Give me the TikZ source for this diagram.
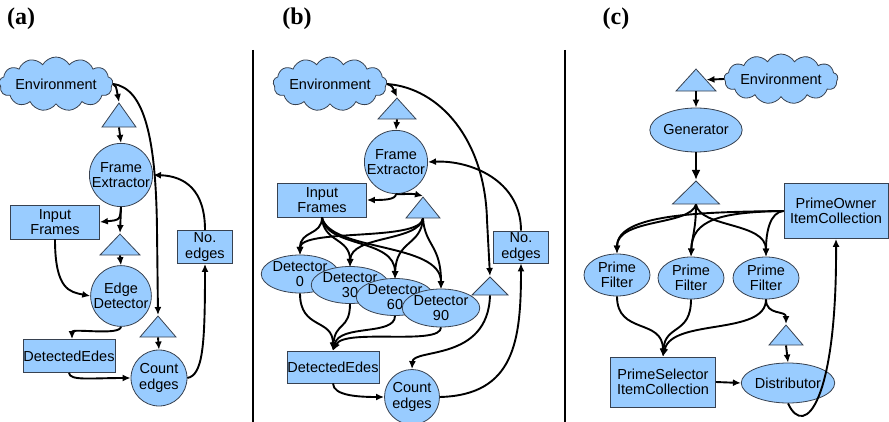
\documentclass[tikz,border=0pt]{standalone}
\usepackage{fontspec}
\setmainfont{Liberation Sans}
\newfontfamily\labelfont{Liberation Serif}
\usetikzlibrary{shapes.geometric,shapes.symbols,arrows.meta}

\definecolor{nodefill}{RGB}{153,204,255}
\definecolor{nodeline}{RGB}{55,65,80}

\tikzset{
  base/.style={draw=nodeline, fill=nodefill, line width=0.8pt, inner sep=0pt,
    align=center, font=\fontsize{14.5}{15.5}\selectfont},
  circ/.style={base, circle, minimum size=#1},
  ellip/.style 2 args={base, ellipse, minimum width=#1, minimum height=#2},
  box/.style 2 args={base, rectangle, minimum width=#1, minimum height=#2},
  cloudnode/.style 2 args={base, cloud, cloud puffs=13, cloud puff arc=120,
    cloud ignores aspect, minimum width=#1, minimum height=#2},
  tri/.style 2 args={base, isosceles triangle, isosceles triangle stretches,
    shape border rotate=90, minimum width=#1, minimum height=#2, anchor=apex},
  arr/.style={line width=1.9pt, -{Latex[length=8pt,width=7pt]}},
  thickarr/.style={line width=2.8pt, -{Latex[length=10pt,width=9pt]}},
  panel/.style={font=\labelfont\bfseries\fontsize{24}{26}\selectfont},
  divider/.style={line width=1.5pt}
}

\begin{document}
\begin{tikzpicture}[x=1pt, y=-1pt]
\useasboundingbox (0,0) rectangle (889,422);

% panel labels and dividers
\node[panel] (la) at (21,19) {(a)};
\node[panel] (lb) at (297,19) {(b)};
\node[panel] (lc) at (616,19) {(c)};
\coordinate (d1t) at (253,50); \coordinate (d1b) at (253,422);
\coordinate (d2t) at (565,50); \coordinate (d2b) at (565,422);
\draw[divider] (d1t) -- (d1b);
\draw[divider] (d2t) -- (d2b);

%%%%%%%%%%%%%%%% (a) single edge detector
\node[cloudnode={103pt}{54pt}] (envA) at (56,84) {Environment};
\node[tri={34pt}{24pt}] (tA1) at (119,102) {};
\node[circ=56pt] (feA) at (121,175) {Frame\\Extractor};
\node[box={89pt}{34pt}] (ifA) at (55,222) {Input\\Frames};
\node[tri={40pt}{21pt}] (tA2) at (120,233) {};
\node[circ=56pt] (edA) at (121,296) {Edge\\Detector};
\node[box={55pt}{33pt}] (neA) at (205,247) {No.\\edges};
\node[tri={36pt}{21pt}] (tA3) at (158,315) {};
\node[box={92pt}{33pt}] (deA) at (69,356) {DetectedEdes};
\node[circ=56pt] (ceA) at (159,378) {Count\\edges};

\draw[arr] (envA.east) .. controls (116,86) .. (tA1.apex);
\draw[arr] (tA1.lower side) -- (feA.north);
\draw[arr] (envA.east) .. controls (145,88) and (156,140) .. (157,230) -- (tA3.apex);
\draw[arr] (neA.north) .. controls (205,190) and (185,176) .. (feA.east);
\draw[arr] (feA.south) .. controls (120,220) .. (ifA.east);
\draw[arr] (feA.south) -- (tA2.apex);
\draw[arr] (tA2.lower side) -- (edA.north);
\draw[arr] (ifA.south) .. controls (55,290) and (70,292) .. (edA.west);
\draw[arr] (edA.south) .. controls (120,336) and (72,328) .. ([xshift=3pt]deA.north);
\draw[arr] (deA.south) .. controls (70,381) and (90,378) .. (ceA.west);
\draw[arr] (tA3.lower side) -- (ceA.north);
\draw[arr] (ceA.east) .. controls (203,375) and (205,345) .. (neA.south);

%%%%%%%%%%%%%%%% (b) four oriented detectors
\node[cloudnode={107pt}{54pt}] (envB) at (330,84) {Environment};
\node[tri={38pt}{21pt}] (tB1) at (397,97) {};
\node[circ=55pt] (feB) at (396,162) {Frame\\Extractor};
\node[box={89pt}{34pt}] (ifB) at (322,200) {Input\\Frames};
\node[tri={34pt}{21pt}] (tB2) at (423,196) {};
\node[box={55pt}{32pt}] (neB) at (521,247) {No.\\edges};
\node[tri={36pt}{18pt}] (tB3) at (490,276) {};
\node[box={92pt}{32pt}] (deB) at (333,367) {DetectedEdes};
\node[circ=55pt] (ceB) at (412,397) {Count\\edges};

% frames and orientation streams feeding the detectors
\draw[arr] (ifB.south) .. controls (322,236) and (300,230) .. (300,255);
\draw[arr] (tB2.lower side) .. controls (420,242) and (300,228) .. (300,255);
\draw[arr] (ifB.south) .. controls (323,242) and (350,238) .. (350,267);
\draw[arr] (tB2.lower side) .. controls (418,242) and (351,235) .. (350,267);
\draw[arr] (ifB.south) .. controls (326,248) and (395,238) .. (395,279);
\draw[arr] (tB2.lower side) .. controls (421,246) and (396,240) .. (395,279);
\draw[arr] (ifB.south) .. controls (330,252) and (441,242) .. (441,289);
\draw[arr] (tB2.lower side) .. controls (425,246) and (441,245) .. (441,289);

\node[ellip={75pt}{38pt}] (dB0) at (300,274) {Detector\\0};
\node[ellip={75pt}{37pt}] (dB30) at (350,285) {Detector\\30};
\node[ellip={75pt}{37pt}] (dB60) at (395,297) {Detector\\60};
\node[ellip={77pt}{38pt}] (dB90) at (441,308) {Detector\\90};

\draw[arr] (envB.east) .. controls (392,86) .. (tB1.apex);
\draw[arr] (envB.east) .. controls (440,88) and (485,140) .. (487,220) -- (tB3.apex);
\draw[arr] (tB1.lower side) -- (feB.north);
\draw[arr] (neB.north) .. controls (521,180) and (470,160) .. (feB.east);
\draw[arr] (feB.south) .. controls (396,200) and (382,200) .. (ifB.east);
\draw[arr] (feB.south) .. controls (399,195) and (410,193) .. (tB2.apex);
\draw[arr] (dB0.south) .. controls (300,330) and (333,318) .. (deB.north);
\draw[arr] (dB30.south) .. controls (350,330) and (335,322) .. (deB.north);
\draw[arr] (dB60.south) .. controls (395,336) and (340,324) .. (deB.north);
\draw[arr] (dB90.south) .. controls (441,346) and (345,328) .. (deB.north);
\draw[arr] (deB.south) .. controls (333,396) and (360,397) .. (ceB.west);
\draw[arr] (tB3.lower side) .. controls (488,362) and (413,348) .. (ceB.north);
\draw[arr] (ceB.east) .. controls (515,395) and (521,340) .. (neB.south);

%%%%%%%%%%%%%%%% (c) prime sieve
\node[cloudnode={112pt}{50pt}] (envC) at (781,79) {Environment};
\node[tri={40pt}{22pt}] (tC1) at (696,68) {};
\node[ellip={68pt}{44pt}] (genC) at (696,130) {Generator};
\node[tri={47pt}{23pt}] (tC2) at (696,180) {};
\node[box={104pt}{55pt}] (poC) at (836,211) {PrimeOwner\\ItemCollection};
\node[ellip={66pt}{42pt}] (pf1) at (617,275) {Prime\\Filter};
\node[ellip={66pt}{42pt}] (pf2) at (691,278) {Prime\\Filter};
\node[ellip={66pt}{42pt}] (pf3) at (766,278) {Prime\\Filter};
\node[tri={34pt}{20pt}] (tC3) at (786,324) {};
\node[box={105pt}{50pt}] (psC) at (663,382) {PrimeSelector\\ItemCollection};
\node[ellip={66pt}{40pt}] (distC) at (788,383) {Distributor};

\draw[arr] (envC.west) -- (tC1.right side);
\draw[arr] (tC1.lower side) -- (genC.north);
\draw[thickarr] (genC.south) -- (tC2.apex);
\draw[arr] (tC2.lower side) .. controls (690,226) and (617,218) .. (pf1.north);
\draw[arr] (tC2.lower side) .. controls (696,230) and (692,236) .. (pf2.north);
\draw[arr] (tC2.lower side) .. controls (700,228) and (766,222) .. (pf3.north);
\draw[arr] (poC.west) .. controls (700,212) and (617,214) .. (pf1.north);
\draw[arr] (poC.west) .. controls (720,212) and (692,220) .. (pf2.north);
\draw[arr] (poC.west) .. controls (770,212) and (766,232) .. (pf3.north);
\draw[arr] (pf1.south) .. controls (617,335) and (663,318) .. (psC.north);
\draw[arr] (pf2.south) .. controls (691,335) and (665,324) .. (psC.north);
\draw[arr] (pf3.south) .. controls (766,336) and (672,318) .. (psC.north);
\draw[arr] (pf3.south) .. controls (766,316) and (786,310) .. (tC3.apex);
\draw[arr] (tC3.lower side) -- (distC.north);
\draw[arr] (psC.east) -- (distC.west);
\draw[arr] (distC.south) .. controls (805,440) and (837,400) .. (poC.south);
\end{tikzpicture}
\end{document}
